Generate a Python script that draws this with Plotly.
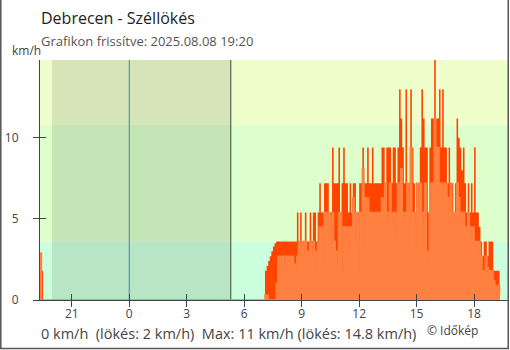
import numpy as np
import plotly.graph_objects as go

# ---------------- data ----------------
day_start_h = 7 + 5 / 60          # first daytime sample (07:05)
step_min = 5                       # sample spacing in minutes

gust_day = [
    1.8, 2.1, 2.4, 2.7, 3.0, 3.3, 3.5,
    3.6, 3.6, 3.6, 3.6, 3.6, 3.6, 3.6, 3.6, 3.6, 3.6, 3.6, 3.6,
    3.6, 5.4, 3.6, 5.4, 3.6, 3.6, 5.4, 3.6, 3.6, 5.4, 3.6, 5.4, 5.4, 3.6, 5.4,
    7.2,
    5.4, 5.4, 7.2, 7.2, 7.2, 5.4, 5.4, 9.4, 7.2, 7.2, 7.2, 9.4, 5.4, 7.2, 9.4,
    7.2, 7.2, 5.4, 7.2, 5.4, 7.2, 7.2, 5.4, 5.4, 7.2, 7.2, 9.4, 7.2, 7.2, 9.4,
    7.2, 7.2, 9.4, 7.2, 7.2, 7.2, 7.2, 7.2,
    9.4, 9.4, 7.2, 9.4, 9.4, 9.4, 7.2, 9.4, 9.4, 7.2, 9.4, 13.0, 11.2, 9.4,
    7.2, 13.0, 7.2, 7.2, 13.0, 9.4, 7.2, 5.4, 7.2, 7.2, 9.4, 13.0, 11.2, 9.4,
    9.4, 5.4, 9.4, 11.2, 11.2, 14.8, 11.2,
    11.2, 13.0, 9.4, 13.0, 9.4, 9.4, 7.2, 9.4, 7.2, 7.2, 5.4, 7.2, 11.2, 10.0,
    9.4, 8.0, 9.4, 7.2, 5.4, 7.2, 5.4, 7.2, 5.4, 9.4, 5.4, 5.4, 4.5, 3.6, 2.7,
    3.6, 3.6, 2.7, 3.6, 3.6, 3.6, 1.8, 1.8, 1.8, 1.8, 1.8,
]
speed_day = [
    0.3, 0.3, 0, 0, 0, 0, 0,
    1.0, 2.7, 2.7, 1.8, 2.7, 1.8, 2.7, 2.7, 2.2, 2.7, 2.7, 2.2,
    1.8, 2.7, 3.6, 2.7, 3.6, 2.7, 3.6, 3.0, 2.7, 3.6, 2.7, 3.6, 1.8, 3.0, 3.6,
    4.5,
    4.5, 2.0, 5.4, 5.4, 4.5, 5.4, 2.7, 5.4, 3.6, 3.0, 2.0, 5.4, 5.4, 1.8, 4.5,
    3.6, 4.5, 2.7, 4.5, 4.5, 6.3, 3.6, 5.4, 5.4, 1.8, 5.4, 8.1, 3.0, 6.3, 6.3,
    5.4, 5.4, 5.4, 5.4, 5.4, 5.4, 5.4, 5.4,
    6.3, 5.4, 7.2, 5.4, 4.5, 7.2, 5.4, 4.5, 5.4, 3.6, 7.2, 5.4, 8.1, 5.4,
    4.5, 5.4, 7.2, 3.0, 9.4, 5.4, 5.4, 4.5, 7.2, 5.4, 7.2, 5.4, 4.5, 7.2,
    3.0, 2.2, 5.4, 7.2, 7.2, 11.2, 9.4,
    9.4, 7.2, 7.2, 5.4, 7.2, 7.2, 6.3, 5.4, 7.2, 5.4, 4.5, 5.4, 7.2, 6.3,
    5.4, 4.5, 5.4, 4.5, 4.5, 5.4, 4.5, 3.6, 4.5, 3.6, 3.6, 2.7, 3.6, 2.7, 1.8,
    1.5, 2.7, 2.0, 1.8, 1.8, 1.8, 1.2, 0.9, 0.5, 0.9, 0.3,
]

# samples at the very beginning of the window (previous evening)
lead_t = [-4.667, -4.583, -4.5]
lead_speed = [2.9, 0, 0]
lead_gust = [1.8, 1.8, 0]

tick_vals = [-3, 0, 3, 6, 9, 12, 15, 18]
tick_text = ["21", "0", "3", "6", "9", "12", "15", "18"]
y_tick_vals = [0, 5, 10]

band_edges = [0, 3.6, 10.8, 14.8]
band_colors = ["#ccffdd", "#ddffcc", "#eeffcc"]
night_start, night_end = -4.03, 5.3     # sunset / sunrise (h from midnight)
midnight = 0

x_range = [-4.66, 19.77]
y_range = [0, 14.8]

NB = "\u00a0"
title = "Debrecen - Széllökés"
subtitle = "Grafikon frissítve: 2025.08.08 19:20"
unit = "km/h"
footer = f"0 km/h{NB}{NB}(lökés: 2 km/h){NB}{NB}Max: 11 km/h (lökés: 14.8 km/h)"
credit = "© Időkép"

# ---------------- build ----------------
day_t = day_start_h + np.arange(len(gust_day)) * step_min / 60
t_all = np.concatenate([lead_t, day_t])
gust_all = np.concatenate([lead_gust, gust_day])
speed_all = np.concatenate([lead_speed, speed_day])

FONT = "Open Sans"
TXT = "#444444"

fig = go.Figure()
fig.add_trace(go.Scatter(
    x=t_all, y=gust_all, mode="lines", line=dict(shape="hv", width=0, color="#ff4400"),
    fill="tozeroy", fillcolor="#ff4400", hoverinfo="skip", showlegend=False,
))
fig.add_trace(go.Scatter(
    x=t_all, y=speed_all, mode="lines", line=dict(shape="hv", width=1.5, color="#ff8040"),
    fill="tozeroy", fillcolor="#ff8040", hoverinfo="skip", showlegend=False,
))

shapes = []
for lo, hi, col in zip(band_edges[:-1], band_edges[1:], band_colors):
    shapes.append(dict(type="rect", xref="paper", yref="y", x0=0, x1=1, y0=lo, y1=hi,
                       fillcolor=col, line_width=0, layer="below"))
shapes.append(dict(type="rect", xref="x", yref="paper", x0=night_start, x1=night_end, y0=0, y1=1,
                   fillcolor="rgba(0,0,0,0.1)", line_width=0, layer="below"))
shapes.append(dict(type="line", xref="x", yref="paper", x0=midnight, x1=midnight, y0=0, y1=1,
                   line=dict(color="#3a87b8", width=1), layer="below"))
shapes.append(dict(type="line", xref="x", yref="paper", x0=night_end, x1=night_end, y0=0, y1=1,
                   line=dict(color="#3d4a3d", width=1), layer="below"))
# outer frame (left, bottom, right)
shapes.append(dict(type="path", xref="paper", yref="paper",
                   path="M -0.0838 1.26 L -0.0838 -0.2025 L 1.0005 -0.2025 L 1.0005 1.26",
                   line=dict(color="#555555", width=1.5)))

axis_common = dict(showgrid=False, zeroline=False, tickcolor=TXT, tickwidth=1, ticklen=6,
                   tickfont=dict(family=FONT, size=12, color=TXT))

fig.update_layout(
    width=510, height=350,
    margin=dict(l=40, r=2, t=60, b=50),
    paper_bgcolor="white", plot_bgcolor="white",
    shapes=shapes,
    xaxis=dict(range=x_range, tickmode="array", tickvals=tick_vals, ticktext=tick_text,
               ticks="outside", showline=True, linecolor=TXT, linewidth=1,
               ticklabelstandoff=-3, **axis_common),
    xaxis2=dict(range=x_range, overlaying="x", anchor="y", side="bottom", tickmode="array",
                tickvals=tick_vals, ticks="inside", showticklabels=False, showline=False,
                **axis_common),
    yaxis=dict(range=y_range, tickmode="array", tickvals=y_tick_vals, ticks="outside",
               showline=True, linecolor=TXT, linewidth=1, ticklabelstandoff=12, **axis_common),
    yaxis2=dict(range=y_range, overlaying="y", anchor="x", side="left", tickmode="array",
                tickvals=y_tick_vals, ticks="inside", showticklabels=False, showline=False,
                **axis_common),
    annotations=[
        dict(text=title, xref="paper", yref="paper", x=-0.003, y=1.175, xanchor="left", yanchor="middle",
             showarrow=False, font=dict(family=FONT, size=16, color="#222222")),
        dict(text=subtitle, xref="paper", yref="paper", x=-0.003, y=1.079, xanchor="left", yanchor="middle",
             showarrow=False, font=dict(family=FONT, size=13, color="#555555")),
        dict(text=unit, xref="paper", yref="paper", x=0.007, y=1.0375, xanchor="right", yanchor="middle",
             showarrow=False, font=dict(family=FONT, size=12, color=TXT)),
        dict(text=footer, xref="paper", yref="paper", x=-0.003, y=-0.1375, xanchor="left", yanchor="middle",
             showarrow=False, font=dict(family=FONT, size=14.5, color=TXT)),
        dict(text=credit, xref="paper", yref="paper", x=0.8226, y=-0.129, xanchor="left", yanchor="middle",
             showarrow=False, font=dict(family=FONT, size=12, color=TXT)),
    ],
)
# dummy trace so the overlay axes are drawn
fig.add_trace(go.Scatter(x=[None], y=[None], xaxis="x2", yaxis="y2", showlegend=False, hoverinfo="skip"))

fig.write_html("out.html")
